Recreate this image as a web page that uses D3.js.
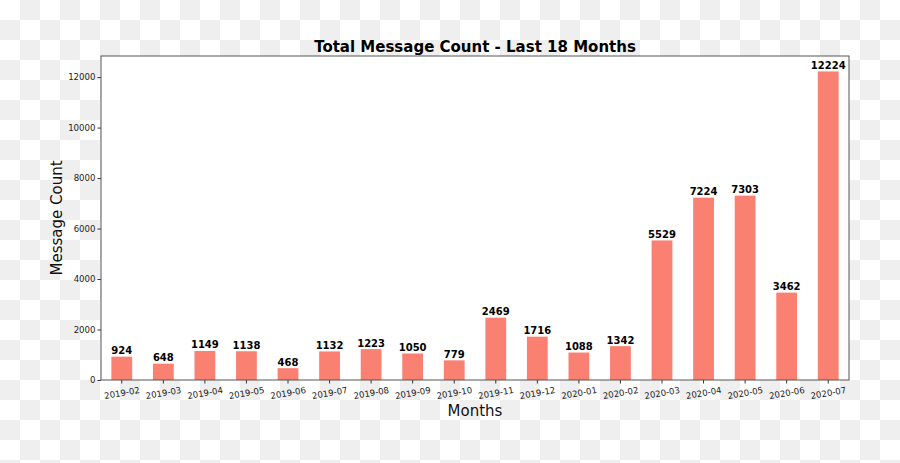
<!DOCTYPE html>
<html>
<head>
<meta charset="utf-8">
<script src="https://cdn.jsdelivr.net/npm/d3@7"></script>
<style>
  body { margin: 0; padding: 0; }
  svg text { font-family: "DejaVu Sans", sans-serif; }
</style>
</head>
<body>
<script>
var w = 900;
var h = 463;

// data
var months = ["2019-02","2019-03","2019-04","2019-05","2019-06","2019-07","2019-08","2019-09","2019-10",
              "2019-11","2019-12","2020-01","2020-02","2020-03","2020-04","2020-05","2020-06","2020-07"];
var counts = [924, 648, 1149, 1138, 468, 1132, 1223, 1050, 779,
              2469, 1716, 1088, 1342, 5529, 7224, 7303, 3462, 12224];
var yTicks = [0, 2000, 4000, 6000, 8000, 10000, 12000];

// plot area (note: "top" is taken by window.top)
var pLeft = 101, pRight = 849, pTop = 56, pBottom = 380;

var svg = d3.select("body")
    .append("svg")
    .attr("width", w)
    .attr("height", h);

// checkered (transparent) background
var sq = 20;
var cells = [];
for (var r = 0; r < Math.ceil(h/sq); r++) {
    for (var c = 0; c < Math.ceil(w/sq); c++) {
        cells.push({r: r, c: c});
    }
}
svg.append("g").selectAll("rect")
    .data(cells)
    .enter()
    .append("rect")
    .attr("x", function(d){ return d.c*sq; })
    .attr("y", function(d){ return d.r*sq; })
    .attr("width", sq)
    .attr("height", sq)
    .attr("fill", function(d){ return (d.r + d.c) % 2 ? "#efefef" : "#ffffff"; });

svg.append("rect")
    .attr("x", pLeft)
    .attr("y", pTop)
    .attr("width", pRight-pLeft)
    .attr("height", pBottom-pTop)
    .attr("fill", "#fff");

var x = d3.scaleBand()
    .domain(months)
    .range([pLeft, pRight])
    .paddingInner(0.5)
    .paddingOuter(0.25);

var y = d3.scaleLinear()
    .domain([0, d3.max(counts)*1.05])
    .range([pBottom, pTop]);

svg.selectAll("rect.bar")
    .data(counts)
    .enter()
    .append("rect")
    .attr("class", "bar")
    .attr("x", function(d,i){ return x(months[i]); })
    .attr("y", function(d){ return y(d); })
    .attr("width", x.bandwidth())
    .attr("height", function(d){ return pBottom - y(d); })
    .attr("fill", "#fa8072");

svg.selectAll("text.val")
    .data(counts)
    .enter()
    .append("text")
    .attr("class", "val")
    .attr("x", function(d,i){ return x(months[i]) + x.bandwidth()/2; })
    .attr("y", function(d){ return y(d) - 2.5; })
    .attr("text-anchor", "middle")
    .style("font-size", "10px")
    .style("font-weight", "bold")
    .attr("fill", "#000")
    .text(function(d){ return d; });

// axes
var xAxis = d3.axisBottom(x).tickSize(3.5).tickPadding(2);
var gx = svg.append("g")
    .attr("transform", "translate(0," + pBottom + ")")
    .call(xAxis);
gx.select(".domain").remove();
gx.selectAll("line").attr("stroke", "#333");
gx.selectAll("text")
    .style("font-size", "8.6px")
    .attr("fill", "#222")
    .attr("text-anchor", "middle")
    .attr("dy", null)
    .attr("y", 16)
    .attr("transform", "rotate(-10,0,12)");

var yAxis = d3.axisLeft(y).tickValues(yTicks).tickFormat(d3.format("d")).tickSize(3.5).tickPadding(2);
var gy = svg.append("g")
    .attr("transform", "translate(" + pLeft + ",0)")
    .call(yAxis);
gy.select(".domain").remove();
gy.selectAll("line").attr("stroke", "#333");
gy.selectAll("text")
    .style("font-size", "8.6px")
    .attr("fill", "#222");

// frame
svg.append("rect")
    .attr("x", pLeft)
    .attr("y", pTop)
    .attr("width", pRight-pLeft)
    .attr("height", pBottom-pTop)
    .attr("fill", "none")
    .attr("stroke", "#555")
    .attr("stroke-width", 1);

svg.append("text")
    .attr("x", (pLeft+pRight)/2)
    .attr("y", 52)
    .attr("text-anchor", "middle")
    .style("font-size", "15px")
    .style("font-weight", "bold")
    .attr("fill", "#000")
    .text("Total Message Count - Last 18 Months");

svg.append("text")
    .attr("x", (pLeft+pRight)/2)
    .attr("y", 416)
    .attr("text-anchor", "middle")
    .style("font-size", "15px")
    .attr("fill", "#111")
    .text("Months");

svg.append("text")
    .attr("transform", "translate(62," + (pTop+pBottom)/2 + ") rotate(-90)")
    .attr("text-anchor", "middle")
    .style("font-size", "15px")
    .attr("fill", "#111")
    .text("Message Count");
</script>
</body>
</html>
